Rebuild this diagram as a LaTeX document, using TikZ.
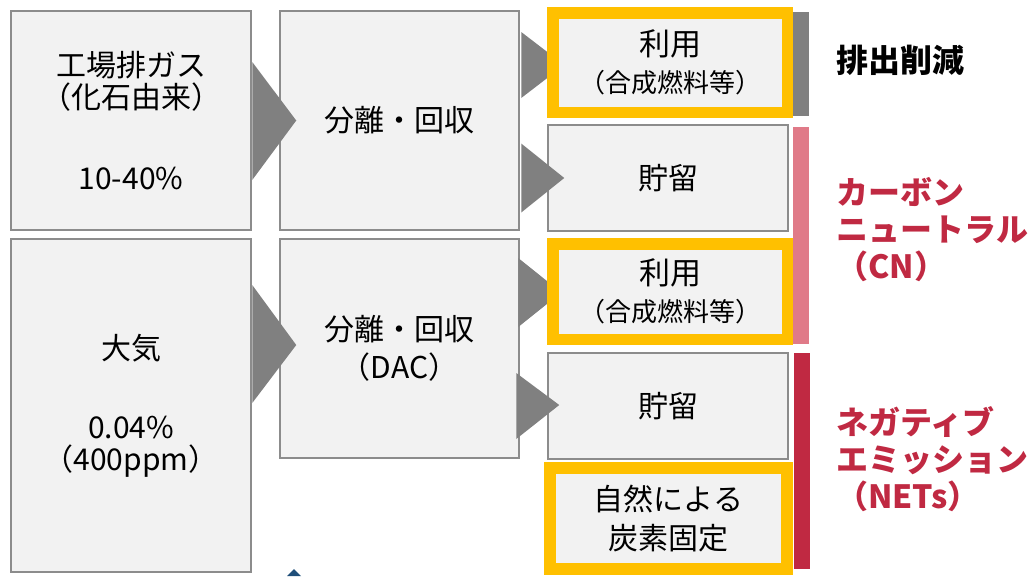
\documentclass[tikz,border=0pt]{standalone}
\usepackage{fontspec}
\setmainfont{Noto Sans CJK JP}
\usetikzlibrary{calc}
\definecolor{boxfill}{HTML}{F2F2F2}
\definecolor{boxline}{HTML}{8C8C8C}
\definecolor{trigray}{HTML}{808080}
\definecolor{hiyellow}{HTML}{FFC000}
\definecolor{barpink}{RGB}{224,122,136}
\definecolor{barred}{RGB}{192,41,66}
\definecolor{labred}{RGB}{192,41,66}
\definecolor{darkblue}{HTML}{1F4E79}
\tikzset{
  graybox/.style={draw=boxline, line width=2.5pt, fill=boxfill, inner sep=0pt, align=center,
    font=\fontsize{30}{32}\selectfont},
  yelbox/.style={draw=hiyellow, line width=11.5pt, fill=boxfill, inner sep=0pt, align=center,
    font=\fontsize{26}{28}\selectfont},
  sidebar/.style={inner sep=0pt, minimum width=16pt},
  arrowtri/.style={fill=trigray},
  catlabel/.style={anchor=west, align=left, inner sep=0pt, font=\bfseries\fontsize{32}{37}\selectfont}
}
\begin{document}
\begin{tikzpicture}[x=1pt,y=-1pt]
\useasboundingbox (0,0) rectangle (1033,576);
% source boxes
\node[graybox, minimum width=240pt, minimum height=219pt] (A) at (131,120.5)
  {工場排ガス\\（化石由来）\\[49pt]10-40\%};
\node[graybox, minimum width=240pt, minimum height=333pt] (B) at (131,405.5)
  {大気\\[47pt]0.04\%\\（400ppm）};
% capture boxes
\node[graybox, minimum width=239pt, minimum height=219pt] (C) at (399.5,120.5)
  {分離・回収};
\node[graybox, minimum width=239pt, minimum height=219pt] (D) at (399.5,348.5)
  {分離・回収\\[6pt]（DAC）};
% arrows into capture boxes
\fill[arrowtri] ($(A.east)+(0,-58.5)$) -- ($(A.east)+(44,0)$) -- ($(A.east)+(0,59.5)$) -- cycle;
\coordinate (bd) at (B.east |- D.east);
\fill[arrowtri] ($(bd)+(0,-63.5)$) -- ($(bd)+(44,-3.5)$) -- ($(bd)+(0,54.5)$) -- cycle;
% arrows out of capture boxes (under the framed boxes)
\coordinate (ce) at ($(C.east)+(1,-55.5)$);
\fill[arrowtri] ($(ce)+(0,-33)$) -- ($(ce)+(43,0)$) -- ($(ce)+(0,33)$) -- cycle;
\coordinate (de) at ($(D.east)+(-2,-56)$);
\fill[arrowtri] ($(de)+(0,-34.5)$) -- ($(de)+(43,0)$) -- ($(de)+(0,34.5)$) -- cycle;
% destination boxes
\node[yelbox, minimum width=234.5pt, minimum height=99.5pt] (E) at (670,62.5)
  {{\fontsize{31}{32}\selectfont 利用}\\[9pt]（合成燃料等）};
\node[graybox, minimum width=240pt, minimum height=106pt] (F) at (668,178) {貯留};
\node[yelbox, minimum width=234.5pt, minimum height=95.5pt] (E2) at (670,291.5)
  {{\fontsize{31}{32}\selectfont 利用}\\[9pt]（合成燃料等）};
\node[graybox, minimum width=240pt, minimum height=106pt] (F2) at (668,406) {貯留};
\node[yelbox, minimum width=237pt, minimum height=101pt,
  font=\fontsize{30}{39}\selectfont] (G) at (668.5,518.5) {自然による\\炭素固定};
% arrows into storage boxes
\coordinate (cf) at (C.east |- F.west);
\fill[arrowtri] ($(cf)+(1,-34.5)$) -- ($(cf)+(44,0)$) -- ($(cf)+(1,34.5)$) -- cycle;
\coordinate (df) at (D.east |- F2.west);
\fill[arrowtri] ($(df)+(-4,-33)$) -- ($(df)+(39,-1)$) -- ($(df)+(-4,33)$) -- cycle;
% side bars
\node[sidebar, fill=trigray, minimum height=104pt] (bar1) at (801,64) {};
\node[sidebar, fill=barpink, minimum height=217pt] (bar2) at (801,235.5) {};
\node[sidebar, fill=barred, minimum height=216pt] (bar3) at (801.5,461) {};
% category labels
\node[catlabel] (L1) at (836,60) {排出削減};
\node[catlabel, text=labred] (L2) at (836,230) {カーボン\\ニュートラル\\（CN）};
\node[catlabel, text=labred] (L3) at (836,459.5) {ネガティブ\\エミッション\\（NETs）};
% partial shape at bottom edge
\fill[darkblue] (287,576) -- (294,569) -- (301,576) -- cycle;
\end{tikzpicture}
\end{document}
